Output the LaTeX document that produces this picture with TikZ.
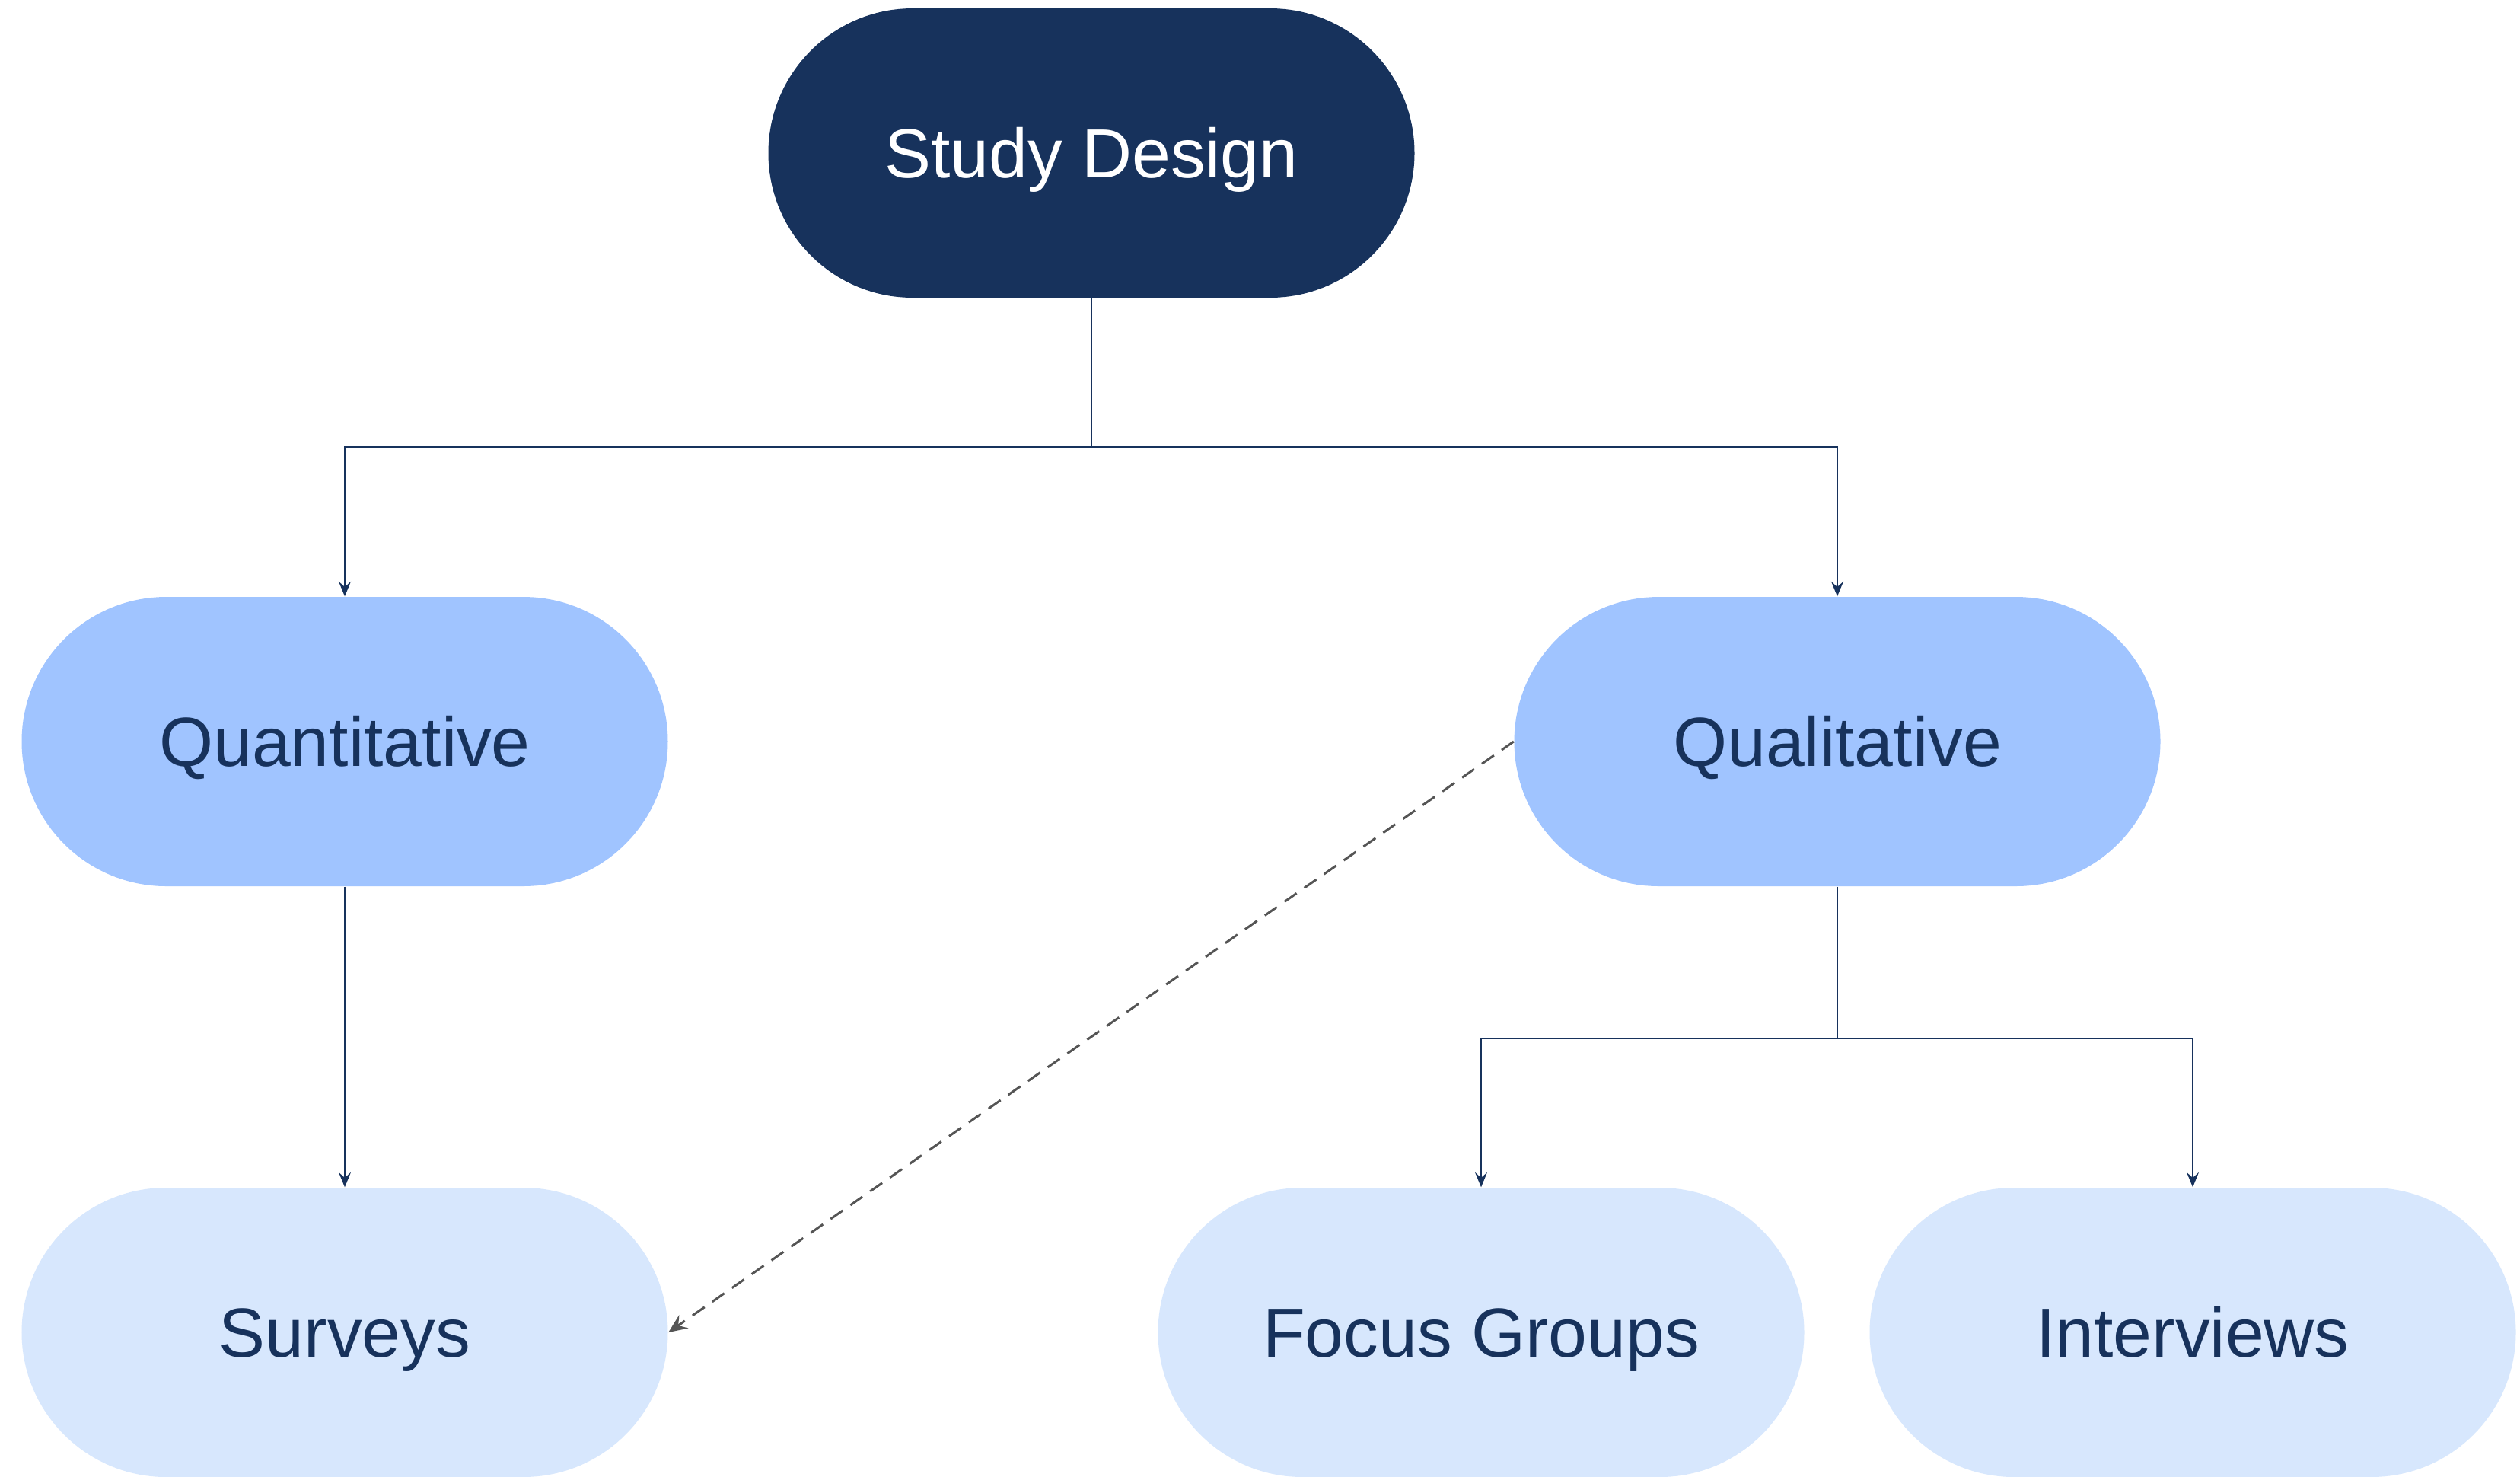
\documentclass[tikz,border=0pt]{standalone}
\usepackage{fontspec}
\setmainfont{Liberation Sans}
\usetikzlibrary{arrows.meta}
\definecolor{navy}{HTML}{17325C}
\definecolor{midblue}{HTML}{A0C4FF}
\definecolor{paleblue}{HTML}{D7E7FD}
\definecolor{dashgray}{HTML}{555555}
\begin{document}
\begin{tikzpicture}[
  pill/.style={rectangle, rounded corners=1.9cm, minimum width=8.49cm,
    minimum height=3.8cm, inner sep=0pt, draw=none,
    text height=18.6pt, text depth=0pt,
    font=\fontsize{26}{30}\selectfont},
  rootpill/.style={pill, fill=navy, text=white},
  midpill/.style={pill, fill=midblue, text=navy},
  leafpill/.style={pill, fill=paleblue, text=navy},
  link/.style={draw=navy, line width=0.8pt},
  linkarrow/.style={link, -{Stealth[length=5.5pt, width=4.5pt, inset=2pt]}},
  dashconn/.style={draw=dashgray, line width=0.85pt, dash pattern=on 5.5pt off 3.5pt,
    -{Stealth[length=7pt, width=6pt, inset=2.5pt]}}
]
\useasboundingbox (0,0) rectangle (33.11,-19.39);
\fill[white] (0,0) rectangle (33.11,-19.39);

% nodes
\node[rootpill] (sd) at (14.34,-2.01) {Study Design};
\node[midpill]  (qn) at (4.53,-9.74)  {Quantitative};
\node[midpill]  (ql) at (24.14,-9.74) {Qualitative};
\node[leafpill] (sv) at (4.53,-17.50) {Surveys};
\node[leafpill] (fg) at (19.46,-17.50) {Focus Groups};
\node[leafpill] (iv) at (28.81,-17.50) {Interviews};

% branch points
\coordinate (j1) at (14.34,-5.87);
\coordinate (j2) at (24.14,-13.64);

% tree connectors
\draw[link] (sd.south) -- (j1);
\draw[linkarrow] (j1) -| (qn.north);
\draw[linkarrow] (j1) -| (ql.north);
\draw[linkarrow] (qn.south) -- (sv.north);
\draw[link] (ql.south) -- (j2);
\draw[linkarrow] (j2) -| (fg.north);
\draw[linkarrow] (j2) -| (iv.north);

% cross link
\draw[dashconn] (ql.west) -- (sv.east);
\end{tikzpicture}
\end{document}
